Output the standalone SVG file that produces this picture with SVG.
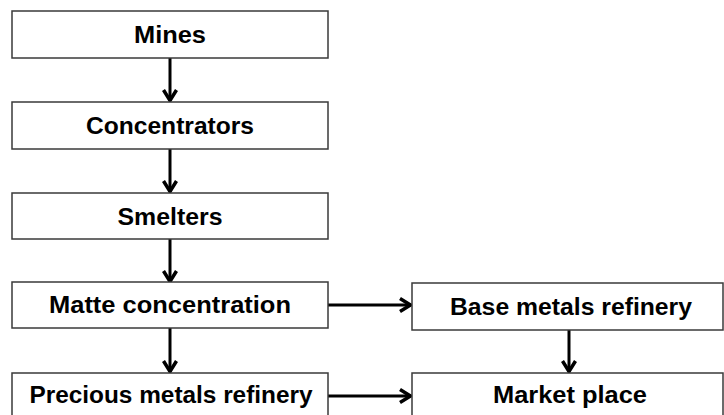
<svg xmlns="http://www.w3.org/2000/svg" width="724" height="415" viewBox="0 0 724 415">
<style>
.box{fill:#fff;stroke:#3a3a3a;stroke-width:1.5}
.t{font-family:"Liberation Sans",Arial,sans-serif;font-weight:bold;font-size:23px;fill:#000;text-anchor:middle}
.c{stroke:#000;stroke-width:3;fill:none}
</style>
<defs>
<marker id="ah" markerUnits="userSpaceOnUse" viewBox="0 0 16 16" refX="14" refY="8" markerWidth="16" markerHeight="16" orient="auto">
<polyline points="3,1.5 13.5,8 3,14.5" fill="none" stroke="#000" stroke-width="3.5"/>
</marker>
</defs>
<rect width="724" height="415" fill="#fff"/>
<g id="connectors">
<line class="c" x1="170" y1="58" x2="170" y2="101" marker-end="url(#ah)"/>
<line class="c" x1="170" y1="149" x2="170" y2="192" marker-end="url(#ah)"/>
<line class="c" x1="170" y1="239" x2="170" y2="282" marker-end="url(#ah)"/>
<line class="c" x1="170" y1="328" x2="170" y2="372" marker-end="url(#ah)"/>
<line class="c" x1="328" y1="305" x2="411" y2="305" marker-end="url(#ah)"/>
<line class="c" x1="328" y1="396" x2="411" y2="396" marker-end="url(#ah)"/>
<line class="c" x1="569" y1="330" x2="569" y2="372" marker-end="url(#ah)"/>
</g>
<g id="mines"><rect class="box" x="12" y="11" width="316" height="47"/><text class="t" x="170" y="43" textLength="72" lengthAdjust="spacingAndGlyphs">Mines</text></g>
<g id="concentrators"><rect class="box" x="12" y="102" width="316" height="47"/><text class="t" x="170" y="133.5" textLength="168" lengthAdjust="spacingAndGlyphs">Concentrators</text></g>
<g id="smelters"><rect class="box" x="12" y="193" width="316" height="46"/><text class="t" x="170" y="225" textLength="105" lengthAdjust="spacingAndGlyphs">Smelters</text></g>
<g id="matte"><rect class="box" x="12" y="282" width="316" height="46"/><text class="t" x="170" y="313" textLength="242" lengthAdjust="spacingAndGlyphs">Matte concentration</text></g>
<g id="base"><rect class="box" x="412" y="283" width="311" height="47"/><text class="t" x="571" y="315" textLength="242" lengthAdjust="spacingAndGlyphs">Base metals refinery</text></g>
<g id="precious"><rect class="box" x="12" y="373" width="316" height="50"/><text class="t" x="171" y="403" textLength="283" lengthAdjust="spacingAndGlyphs">Precious metals refinery</text></g>
<g id="market"><rect class="box" x="412" y="373" width="311" height="50"/><text class="t" x="570" y="403" textLength="154" lengthAdjust="spacingAndGlyphs">Market place</text></g>
</svg>
